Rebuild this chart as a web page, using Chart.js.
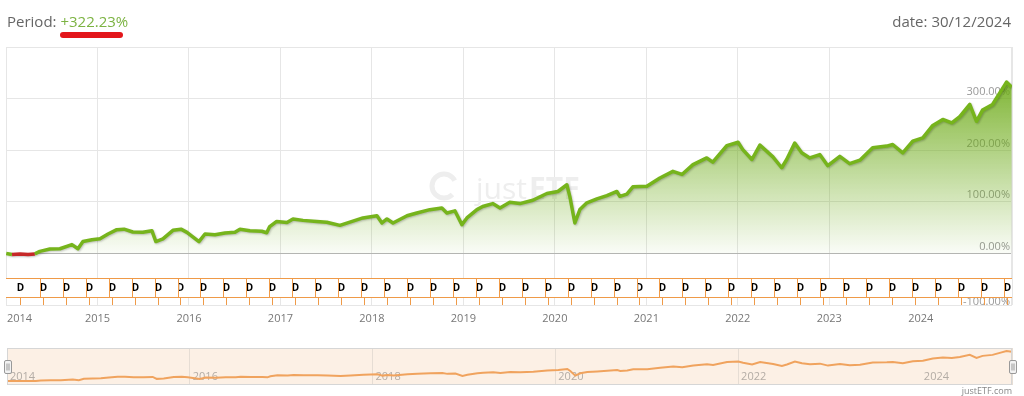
<!DOCTYPE html>
<html>
<head>
<meta charset="utf-8">
<title>Performance chart</title>
<script src="https://cdn.jsdelivr.net/npm/chart.js@4.4.1/dist/chart.umd.min.js"></script>
<style>
  html, body { margin: 0; padding: 0; background: #fff; }
  body { width: 1024px; height: 396px; position: relative; overflow: hidden; font-family: 'Open Sans', sans-serif; }
  #main { position: absolute; left: 0; top: 0; }
  #nav { position: absolute; left: 0; top: 340px; }
  .head { position: absolute; top: 11px; font-size: 15px; line-height: 20px; color: #666; z-index: 2; }
  .period { left: 7px; }
  .period span { color: #7cb342; }
  .date { right: 13px; }
  .underline { position: absolute; left: 60px; top: 32px; width: 63px; height: 6px; border-radius: 3px; background: #e3161b; z-index: 2; }
  .credit { position: absolute; right: 12px; top: 384px; font-size: 9px; color: #888; }
</style>
</head>
<body>
<div class="head period">Period: <span>+322.23%</span></div>
<div class="underline"></div>
<div class="head date">date: 30/12/2024</div>
<canvas id="main" width="1024" height="335"></canvas>
<canvas id="nav" width="1024" height="56"></canvas>
<div class="credit">justETF.com</div>

<script>
// cumulative performance in %
const dates = [
  '2014-01-02', '2014-01-25', '2014-02-26', '2014-03-30', '2014-04-26', '2014-05-16', '2014-06-25', '2014-08-04',
  '2014-09-21', '2014-10-15', '2014-11-04', '2014-12-10', '2015-01-11', '2015-02-12', '2015-03-19', '2015-04-17',
  '2015-05-22', '2015-07-01', '2015-08-06', '2015-08-22', '2015-09-19', '2015-10-29', '2015-11-30', '2015-12-24',
  '2016-02-10', '2016-03-05', '2016-04-14', '2016-05-24', '2016-07-03', '2016-07-23', '2016-09-01', '2016-10-18',
  '2016-11-07', '2016-11-19', '2016-12-17', '2017-01-27', '2017-02-20', '2017-04-01', '2017-05-26', '2017-07-05',
  '2017-08-26', '2017-10-05', '2017-11-26', '2018-01-21', '2018-02-10', '2018-03-02', '2018-03-26', '2018-05-21',
  '2018-06-29', '2018-08-20', '2018-10-07', '2018-10-27', '2018-11-28', '2018-12-26', '2019-01-15', '2019-02-24',
  '2019-03-19', '2019-04-28', '2019-05-27', '2019-07-05', '2019-08-14', '2019-10-05', '2019-11-30', '2020-01-13',
  '2020-02-18', '2020-03-01', '2020-03-21', '2020-04-10', '2020-05-08', '2020-06-17', '2020-07-27', '2020-09-05',
  '2020-09-17', '2020-10-15', '2020-11-08', '2021-01-03', '2021-02-24', '2021-04-17', '2021-05-23', '2021-07-06',
  '2021-08-30', '2021-09-23', '2021-11-18', '2022-01-02', '2022-01-21', '2022-02-26', '2022-03-30', '2022-05-21',
  '2022-06-25', '2022-07-15', '2022-08-16', '2022-09-13', '2022-10-15', '2022-11-24', '2022-12-26', '2023-02-12',
  '2023-03-23', '2023-05-03', '2023-06-23', '2023-08-18', '2023-09-11', '2023-10-21', '2023-11-30', '2024-01-09',
  '2024-02-18', '2024-03-29', '2024-05-04', '2024-06-05', '2024-07-15', '2024-08-11', '2024-09-04', '2024-10-14',
  '2024-11-12', '2024-12-09', '2024-12-30'
];
const values = [
  0, -2, -1, -2, -1, 4, 8.5, 9,
  17, 9, 23, 26.6, 28.5, 37.6, 46, 47,
  41.5, 41, 44, 23, 28, 44.7, 47, 40.8,
  22.7, 37.6, 36, 39.6, 41, 47, 44, 43,
  40, 52, 62, 60, 66.7, 64, 62, 60.5,
  54.4, 60.5, 68.7, 73, 59, 66.7, 59, 73,
  78.4, 84.8, 88, 78.4, 82.5, 55.7, 68.7, 84.8,
  91, 96.5, 88, 99, 96.5, 103, 116, 120,
  133, 110, 59, 85, 98, 105.6, 112, 120,
  110.6, 115, 129, 130, 146, 159, 153, 172,
  185, 177, 209, 215.5, 201, 182, 210, 187,
  166, 182, 214, 195, 185, 191.6, 170, 188,
  174, 180.6, 204.7, 208, 211, 195, 217.5, 224,
  248, 259.6, 253, 265, 288.7, 256, 277.7, 288.7,
  311, 332, 322.23
];

// dividend flags ("D")
const divDates = [
  '2014-02-26', '2014-05-28', '2014-08-28', '2014-11-27', '2015-02-27', '2015-05-29', '2015-08-29', '2015-11-28',
  '2016-02-28', '2016-05-30', '2016-08-30', '2016-11-30', '2017-03-01', '2017-06-01', '2017-08-31', '2017-12-01',
  '2018-03-02', '2018-06-02', '2018-09-02', '2018-12-02', '2019-03-04', '2019-06-03', '2019-09-03', '2019-12-03',
  '2020-03-04', '2020-06-04', '2020-09-04', '2020-12-04', '2021-03-06', '2021-06-06', '2021-09-05', '2021-12-06',
  '2022-03-07', '2022-06-07', '2022-09-06', '2022-12-07', '2023-03-09', '2023-06-08', '2023-09-08', '2023-12-08',
  '2024-03-09', '2024-06-08', '2024-09-08', '2024-12-09'
];

const yTicks = [-100, 0, 100, 200, 300];
const yearLabels = ['2014', '2015', '2016', '2017', '2018', '2019', '2020', '2021', '2022', '2023', '2024'];
const navLabels = ['2014', '2016', '2018', '2020', '2022', '2024'];

function toYear(s) {
  const [y, m, d] = s.split('-').map(Number);
  const start = Date.UTC(y, 0, 1);
  const end = Date.UTC(y + 1, 0, 1);
  return y + (Date.UTC(y, m - 1, d) - start) / (end - start);
}

const xMin = toYear('2014-01-01');
const xMax = toYear('2024-12-31');
const points = dates.map((d, i) => ({ x: toYear(d), y: values[i] }));

const GREEN = '#76b41c';
const RED = '#c62828';
const ORANGE = '#ef9a48';
const FONT = "'Open Sans', sans-serif";

function areaGradient(chart) {
  const area = chart.chartArea;
  if (!area) return 'rgba(0,0,0,0)';
  const y0 = chart.scales.y.getPixelForValue(0);
  const g = chart.ctx.createLinearGradient(0, area.top, 0, y0);
  g.addColorStop(0, 'rgba(104, 168, 16, 1)');
  g.addColorStop(1, 'rgba(104, 168, 16, 0.03)');
  return g;
}

const watermark = {
  id: 'watermark',
  beforeDatasetsDraw(chart) {
    const ctx = chart.ctx;
    ctx.save();
    ctx.strokeStyle = '#eeeeee';
    ctx.lineWidth = 5;
    ctx.beginPath();
    ctx.arc(444, 186, 12, 0.25 * Math.PI, 1.85 * Math.PI);
    ctx.stroke();
    ctx.fillStyle = '#eeeeee';
    ctx.textBaseline = 'alphabetic';
    ctx.font = `30px ${FONT}`;
    ctx.fillText('just', 476, 199);
    const w = ctx.measureText('just').width;
    ctx.font = `bold 30px ${FONT}`;
    ctx.fillText('ETF', 476 + w + 2, 199);
    ctx.restore();
  }
};

// soft shadow under the line only (the fill is drawn before this hook)
const lineShadow = {
  id: 'lineShadow',
  beforeDatasetDraw(chart) {
    const ctx = chart.ctx;
    ctx.save();
    ctx.shadowColor = 'rgba(0, 0, 0, 0.22)';
    ctx.shadowBlur = 2;
    ctx.shadowOffsetX = 1;
    ctx.shadowOffsetY = 1;
  },
  afterDatasetDraw(chart) {
    chart.ctx.restore();
  }
};

const frameAndLabels = {
  id: 'frameAndLabels',
  beforeDatasetsDraw(chart) {
    const { ctx, chartArea: a, scales: { y } } = chart;
    ctx.save();
    ctx.strokeStyle = '#e6e6e6';
    ctx.lineWidth = 1;
    ctx.strokeRect(a.left + 0.5, a.top + 0.5, a.right - a.left - 1, a.bottom - a.top);
    ctx.font = `11px ${FONT}`;
    ctx.fillStyle = '#999';
    ctx.textAlign = 'right';
    ctx.textBaseline = 'bottom';
    yTicks.forEach(v => {
      const py = y.getPixelForValue(v);
      ctx.fillText(v.toFixed(2) + '%', a.right - 2, v === -100 ? py + 2 : py - 1);
    });
    ctx.restore();
  },
  afterDraw(chart) {
    const { ctx, chartArea: a, scales: { x } } = chart;
    ctx.save();
    ctx.font = `11px ${FONT}`;
    ctx.fillStyle = '#777';
    ctx.textBaseline = 'middle';
    yearLabels.forEach(lbl => {
      const px = x.getPixelForValue(Number(lbl));
      const w = ctx.measureText(lbl).width;
      const left = Math.max(a.left + 1, px - w / 2);
      ctx.fillText(lbl, left, a.bottom + 14);
    });
    ctx.restore();
  }
};

const dividendFlags = {
  id: 'dividendFlags',
  afterDatasetsDraw(chart) {
    const { ctx, chartArea: a, scales: { x } } = chart;
    const top = a.bottom - 27, h = 19, w = 40;
    ctx.save();
    ctx.beginPath();
    ctx.rect(a.left, a.top, a.right - a.left, a.bottom - a.top);
    ctx.clip();
    ctx.strokeStyle = '#d0d0d0';
    ctx.lineWidth = 1;
    ctx.beginPath();
    ctx.moveTo(a.left, a.bottom - 7.5);
    ctx.lineTo(a.right, a.bottom - 7.5);
    ctx.stroke();
    const xs = divDates.map(d => Math.round(x.getPixelForValue(toYear(d))) + 0.5);
    ctx.strokeStyle = ORANGE;
    xs.forEach(px => {
      ctx.beginPath();
      ctx.moveTo(px, top + h);
      ctx.lineTo(px, a.bottom);
      ctx.stroke();
    });
    // earlier flags sit on top of later ones
    ctx.font = `bold 10px ${FONT}`;
    ctx.textAlign = 'center';
    ctx.textBaseline = 'middle';
    for (let i = xs.length - 1; i >= 0; i--) {
      const px = xs[i];
      ctx.fillStyle = '#fff';
      ctx.fillRect(px - w / 2, top + 0.5, w, h);
      ctx.strokeRect(px - w / 2, top + 0.5, w, h);
      ctx.fillStyle = '#000';
      ctx.fillText('D', px, top + h / 2 + 1);
    }
    ctx.restore();
  }
};

new Chart(document.getElementById('main'), {
  type: 'line',
  data: {
    datasets: [{
      data: points,
      borderColor: GREEN,
      borderWidth: 3.5,
      borderJoinStyle: 'round',
      pointRadius: 0,
      tension: 0,
      fill: { target: { value: 0 } },
      backgroundColor: (c) => areaGradient(c.chart),
      segment: {
        borderColor: (s) => (s.p0.parsed.y < 0 && s.p1.parsed.y <= 0) ? RED : undefined
      }
    }]
  },
  options: {
    responsive: false,
    animation: false,
    layout: { padding: { left: 6, right: 12, top: 47, bottom: 30 } },
    plugins: { legend: { display: false }, tooltip: { enabled: false } },
    scales: {
      x: {
        type: 'linear', min: xMin, max: xMax,
        ticks: { display: false, stepSize: 1 },
        grid: { color: '#e6e6e6', drawTicks: false },
        border: { display: false },
        afterFit: (s) => { s.height = 0; }
      },
      y: {
        position: 'right', min: -100, max: 400,
        ticks: { display: false, stepSize: 100 },
        grid: { color: (c) => c.tick.value === 0 ? '#b5b5b5' : '#e6e6e6', drawTicks: false },
        border: { display: false },
        afterFit: (s) => { s.width = 0; }
      }
    }
  },
  plugins: [watermark, frameAndLabels, lineShadow, dividendFlags]
});

// navigator strip
const navDecor = {
  id: 'navDecor',
  beforeDraw(chart) {
    const { ctx, chartArea: a } = chart;
    ctx.save();
    ctx.fillStyle = '#fcf0e5';
    ctx.fillRect(a.left, a.top, a.right - a.left, a.bottom - a.top);
    ctx.restore();
  },
  beforeDatasetsDraw(chart) {
    const { ctx, chartArea: a, scales: { x } } = chart;
    ctx.save();
    ctx.font = `11px ${FONT}`;
    ctx.fillStyle = '#b3aca5';
    ctx.textBaseline = 'middle';
    navLabels.forEach(lbl => {
      const px = x.getPixelForValue(Number(lbl));
      ctx.fillText(lbl, px + 3, a.bottom - 8);
    });
    ctx.restore();
  },
  afterDraw(chart) {
    const { ctx, chartArea: a } = chart;
    ctx.save();
    ctx.strokeStyle = '#d6d6d6';
    ctx.lineWidth = 1;
    ctx.strokeRect(a.left + 0.5, a.top + 0.5, a.right - a.left - 1, a.bottom - a.top - 1);
    const midY = (a.top + a.bottom) / 2;
    [a.left, a.right].forEach(hx => {
      const left = Math.round(hx - 3.5) + 0.5;
      ctx.fillStyle = '#f2f2f2';
      ctx.strokeStyle = '#999';
      ctx.beginPath();
      ctx.roundRect(left, Math.round(midY - 7) + 0.5, 7, 13, 1.5);
      ctx.fill();
      ctx.stroke();
      ctx.beginPath();
      ctx.moveTo(left + 2.5, midY - 3);
      ctx.lineTo(left + 2.5, midY + 4);
      ctx.moveTo(left + 4.5, midY - 3);
      ctx.lineTo(left + 4.5, midY + 4);
      ctx.stroke();
    });
    ctx.restore();
  }
};

new Chart(document.getElementById('nav'), {
  type: 'line',
  data: {
    datasets: [{
      data: points,
      borderColor: '#f0a35e',
      borderWidth: 2,
      pointRadius: 0,
      tension: 0,
      fill: false
    }]
  },
  options: {
    responsive: false,
    animation: false,
    layout: { padding: { left: 7, right: 12, top: 8, bottom: 11 } },
    plugins: { legend: { display: false }, tooltip: { enabled: false } },
    scales: {
      x: {
        type: 'linear', min: xMin, max: xMax,
        ticks: { display: false, stepSize: 2 },
        grid: { color: '#e6ddd4', drawTicks: false },
        border: { display: false },
        afterFit: (s) => { s.height = 0; }
      },
      y: { display: false, min: -45, max: 365 }
    }
  },
  plugins: [navDecor]
});
</script>
</body>
</html>
